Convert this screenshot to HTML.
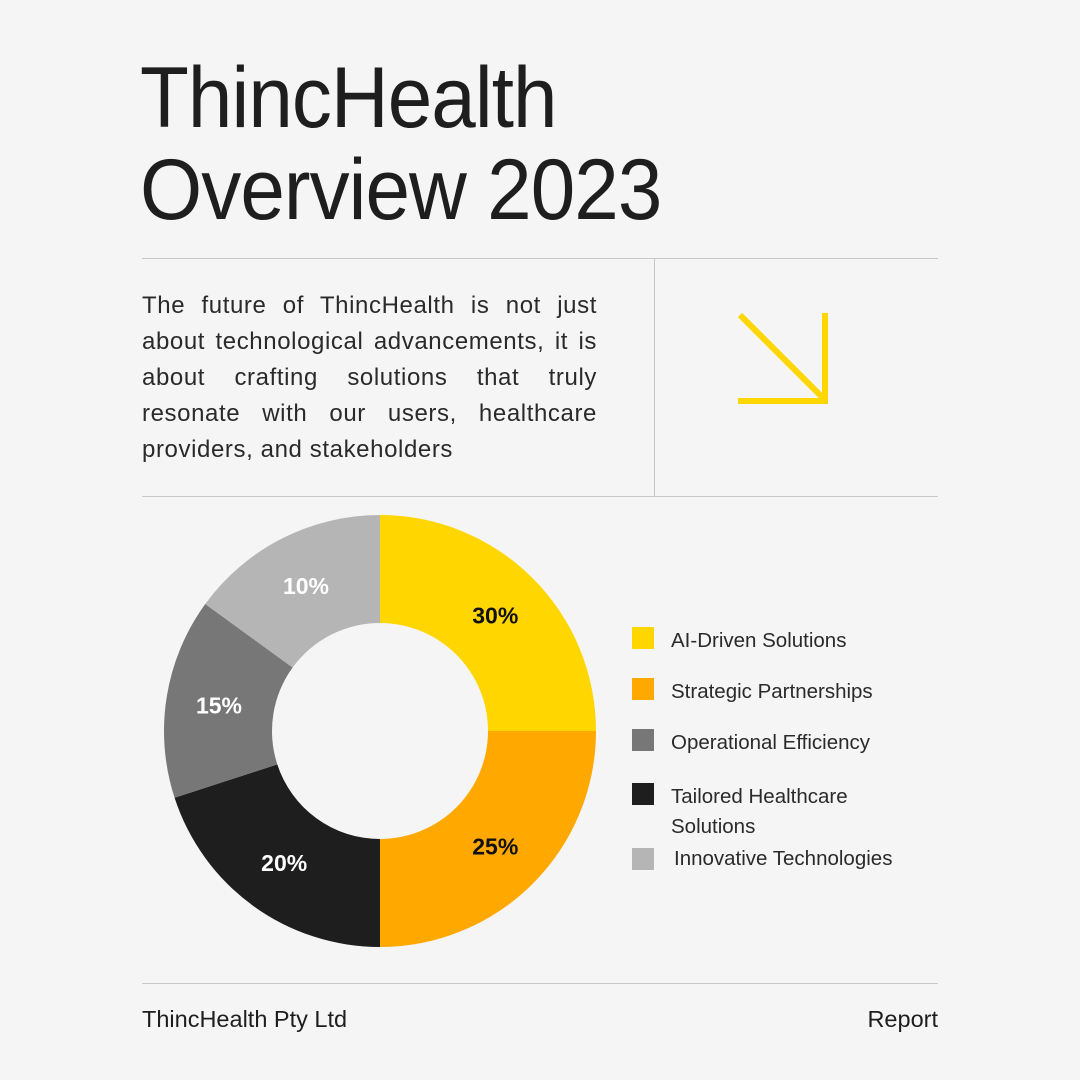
<!DOCTYPE html>
<html><head><meta charset="utf-8">
<style>
html,body{margin:0;padding:0;}
body{width:1080px;height:1080px;background:#f5f5f5;position:relative;overflow:hidden;font-family:"Liberation Sans",sans-serif;color:#1e1e1e;}
.abs{position:absolute;}
h1{position:absolute;left:140px;top:52px;margin:0;font-weight:normal;font-size:86px;line-height:92px;letter-spacing:-1px;color:#1e1e1e;transform:scaleX(0.93);transform-origin:0 0;white-space:nowrap;}
.hr{position:absolute;left:142px;width:796px;height:1px;background:#c8c8c8;}
p{position:absolute;left:142px;top:288px;width:455px;margin:0;font-size:24px;line-height:36px;letter-spacing:0.6px;text-align:justify;color:#2a2a2a;}
.leg{position:absolute;left:632px;font-size:20.5px;color:#2a2a2a;}
.sw{position:absolute;left:0;width:22px;height:22px;}
.lt{position:absolute;left:39px;top:-1px;white-space:nowrap;line-height:30px;}
.foot{position:absolute;top:1006px;font-size:23.5px;color:#1e1e1e;}
</style></head>
<body>
<h1>ThincHealth<br>Overview 2023</h1>
<div class="hr" style="top:258px"></div>
<div class="hr" style="top:496px"></div>
<div class="hr" style="top:983px"></div>
<div class="abs" style="left:654px;top:258px;width:1px;height:238px;background:#c8c8c8"></div>
<p>The future of ThincHealth is not just about technological advancements, it is about crafting solutions that truly resonate with our users, healthcare providers, and stakeholders</p>
<svg class="abs" style="left:730px;top:305px" width="110" height="110">
<g stroke="#FFD600" stroke-width="6" fill="none">
<line x1="10" y1="10" x2="94" y2="94"/>
<line x1="95" y1="8" x2="95" y2="99"/>
<line x1="8" y1="96" x2="98" y2="96"/>
</g></svg>
<svg id="chart" class="abs" style="left:0;top:0" width="1080" height="1080"></svg>
<div id="legend"></div>
<div class="foot" style="left:142px">ThincHealth Pty Ltd</div>
<div class="foot" style="right:142px">Report</div>
<script>
const categories = ["AI-Driven Solutions","Strategic Partnerships","Operational Efficiency","Tailored Healthcare Solutions","Innovative Technologies"];
const values = [25,25,15,20,15];
const valueLabels = ["30%","25%","15%","20%","10%"];
const sliceOrder = [0,1,3,2,4];
const colors = ["#FFD600","#FFA800","#777777","#1e1e1e","#b5b5b5"];
const labelColors = ["#111","#111","#fff","#fff","#fff"];
const legendTops = [627,678,729,783,847];

const NS="http://www.w3.org/2000/svg";
const svg=document.getElementById('chart');
const cx=380, cy=731, R=216, r=108, LR=163;
const total=values.reduce((a,b)=>a+b,0);
function pt(rad,ang){return [cx+rad*Math.sin(ang), cy-rad*Math.cos(ang)];}
let a0=0;
sliceOrder.forEach(i=>{
  const a1=a0+values[i]/total*2*Math.PI;
  const large=(a1-a0)>Math.PI?1:0;
  const [x0,y0]=pt(R,a0),[x1,y1]=pt(R,a1),[x2,y2]=pt(r,a1),[x3,y3]=pt(r,a0);
  const p=document.createElementNS(NS,'path');
  p.setAttribute('d',`M${x0},${y0}A${R},${R} 0 ${large} 1 ${x1},${y1}L${x2},${y2}A${r},${r} 0 ${large} 0 ${x3},${y3}Z`);
  p.setAttribute('fill',colors[i]);
  
  
  svg.appendChild(p);
  const [lx,ly]=pt(LR,(a0+a1)/2);
  const t=document.createElementNS(NS,'text');
  t.setAttribute('x',lx);t.setAttribute('y',ly+8);
  t.setAttribute('text-anchor','middle');
  t.setAttribute('font-family','Liberation Sans, sans-serif');
  t.setAttribute('font-weight','bold');t.setAttribute('font-size','23');
  t.setAttribute('fill',labelColors[i]);
  t.textContent=valueLabels[i];
  
  
  svg.appendChild(t);
  a0=a1;
});
const leg=document.getElementById('legend');
categories.forEach((c,i)=>{
  const d=document.createElement('div');
  d.className='leg';d.style.top=legendTops[i]+'px';
  
  
  const s=document.createElement('div');s.className='sw';s.style.background=colors[i];
  if(i===4){s.style.top='1px';}
  
  
  const l=document.createElement('div');l.className='lt';
  if(i===3){l.innerHTML='Tailored Healthcare<br>Solutions';}else{l.textContent=c;}
  if(i===4){l.style.left='42px';l.style.top='-3px';}
  
  
  d.appendChild(s);d.appendChild(l);leg.appendChild(d);
});
</script>
</body></html>
